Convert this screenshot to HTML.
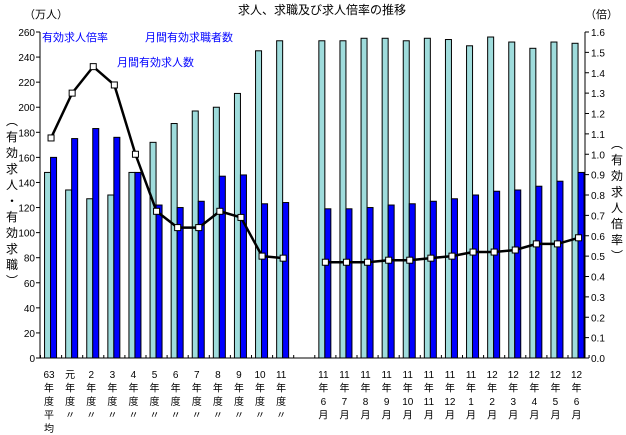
<!DOCTYPE html>
<html><head><meta charset="utf-8"><style>
body{margin:0;background:#fff;overflow:hidden;}
svg{display:block;font-family:"Liberation Sans","Noto Sans CJK JP",sans-serif;}
</style></head><body>
<svg id="c" width="626" height="435" viewBox="0 0 626 435">
<text x="322" y="14" font-size="12" text-anchor="middle">求人、求職及び求人倍率の推移</text>
<text x="24" y="18" font-size="11">（万人）</text>
<text x="585" y="18" font-size="11">（倍）</text>
<text x="42" y="41" font-size="11" fill="#0000ff">有効求人倍率</text>
<text x="145" y="41" font-size="11" fill="#0000ff">月間有効求職者数</text>
<text x="117" y="66" font-size="11" fill="#0000ff">月間有効求人数</text>
<g id="lt"></g>
<g id="rt"></g>
<g id="bars"></g>
<g id="axes"></g>
<g id="line"></g>
<g id="xl"></g>
</svg>
<script>
const categories=[["63","年","度","平","均"],["元","年","度","〃"],["2","年","度","〃"],["3","年","度","〃"],["4","年","度","〃"],["5","年","度","〃"],["6","年","度","〃"],["7","年","度","〃"],["8","年","度","〃"],["9","年","度","〃"],["10","年","度","〃"],["11","年","度","〃"],null,
["11","年","6","月"],["11","年","7","月"],["11","年","8","月"],["11","年","9","月"],["11","年","10","月"],["11","年","11","月"],["11","年","12","月"],["11","年","1","月"],["12","年","2","月"],["12","年","3","月"],["12","年","4","月"],["12","年","5","月"],["12","年","6","月"]];
const seekers=[148,134,127,130,148,172,187,197,200,211,245,253,null,253,253,255,255,253,255,254,249,256,252,247,252,251];
const openings=[160,175,183,176,148,122,120,125,145,146,123,124,null,119,119,120,122,123,125,127,130,133,134,137,141,148];
const ratio=[1.08,1.30,1.43,1.34,1.00,0.72,0.64,0.64,0.72,0.69,0.50,0.49,null,0.47,0.47,0.47,0.48,0.48,0.49,0.50,0.52,0.52,0.53,0.56,0.56,0.59];
const leftTicks=[0,20,40,60,80,100,120,140,160,180,200,220,240,260];
const rightTicks=[0,0.1,0.2,0.3,0.4,0.5,0.6,0.7,0.8,0.9,1.0,1.1,1.2,1.3,1.4,1.5,1.6];
const NS="http://www.w3.org/2000/svg";
const X0=39.5,STEP=21.1,Y0=358,YT=32,XL=40,XR=585;
const yL=v=>Y0-(Y0-YT)*v/260, yR=v=>Y0-(Y0-YT)*v/1.6, xc=i=>X0+STEP*(i+0.5)+1;
function mk(tag,attrs,parent){const e=document.createElementNS(NS,tag);for(const k in attrs)e.setAttribute(k,attrs[k]);parent.appendChild(e);return e;}
const bars=document.getElementById('bars');
seekers.forEach((v,i)=>{if(v==null)return;
 const r=mk('rect',{x:xc(i)-6.5,y:yL(v),width:6,height:Y0-yL(v),fill:'#9fdcdc',stroke:'#000','stroke-width':1},bars);
 
 
});
openings.forEach((v,i)=>{if(v==null)return;
 const r=mk('rect',{x:xc(i)-0.5,y:yL(v),width:6,height:Y0-yL(v),fill:'#0000ff',stroke:'#000','stroke-width':1},bars);
 
 
});
const ax=document.getElementById('axes');
mk('line',{x1:XL,y1:YT,x2:XL,y2:Y0,stroke:'#000'},ax);
mk('line',{x1:XR,y1:YT,x2:XR,y2:Y0,stroke:'#000'},ax);
mk('line',{x1:XL,y1:Y0,x2:XR,y2:Y0,stroke:'#000'},ax);
leftTicks.forEach(t=>{mk('line',{x1:XL-4,y1:yL(t),x2:XL,y2:yL(t),stroke:'#000'},ax);
 const tx=mk('text',{x:XL-5,y:yL(t)+4,'font-size':10,'text-anchor':'end'},ax);tx.textContent=t;
 
 });
rightTicks.forEach(t=>{mk('line',{x1:XR,y1:yR(t),x2:XR+4,y2:yR(t),stroke:'#000'},ax);
 const tx=mk('text',{x:XR+6,y:yR(t)+4,'font-size':10},ax);tx.textContent=t.toFixed(1);
 
 });
for(let i=0;i<=categories.length;i++){mk('line',{x1:X0+STEP*i+1,y1:Y0-3,x2:X0+STEP*i+1,y2:Y0,stroke:'#000'},ax);}
const ln=document.getElementById('line');
function seg(a,b){const pts=[];for(let i=a;i<=b;i++)pts.push(xc(i)+','+yR(ratio[i]));
 const p=mk('polyline',{points:pts.join(' '),fill:'none',stroke:'#000','stroke-width':2.5},ln);
 
 }
seg(0,11);seg(13,25);
ratio.forEach((v,i)=>{if(v==null)return;
 const m=mk('rect',{x:xc(i)-3,y:yR(v)-3,width:6,height:6,fill:'#fff',stroke:'#000','stroke-width':1},ln);
 
 });
const xl=document.getElementById('xl');
categories.forEach((c,i)=>{if(!c)return;c.forEach((s,j)=>{
 const t=mk('text',{x:xc(i)-2,y:378+j*13.5,'font-size':10,'text-anchor':'middle'},xl);t.textContent=s;
 
 });});
const lt=document.getElementById('lt');
"︵有効求人・有効求職︶".split('').forEach((s,j)=>{const t=mk('text',{x:12,y:125+j*16,'font-size':12,'text-anchor':'middle'},lt);t.textContent=s;});
const rt=document.getElementById('rt');
"︵有効求人倍率︶".split('').forEach((s,j)=>{const t=mk('text',{x:617,y:148+j*16,'font-size':12,'text-anchor':'middle'},rt);t.textContent=s;});
</script>
</body></html>
